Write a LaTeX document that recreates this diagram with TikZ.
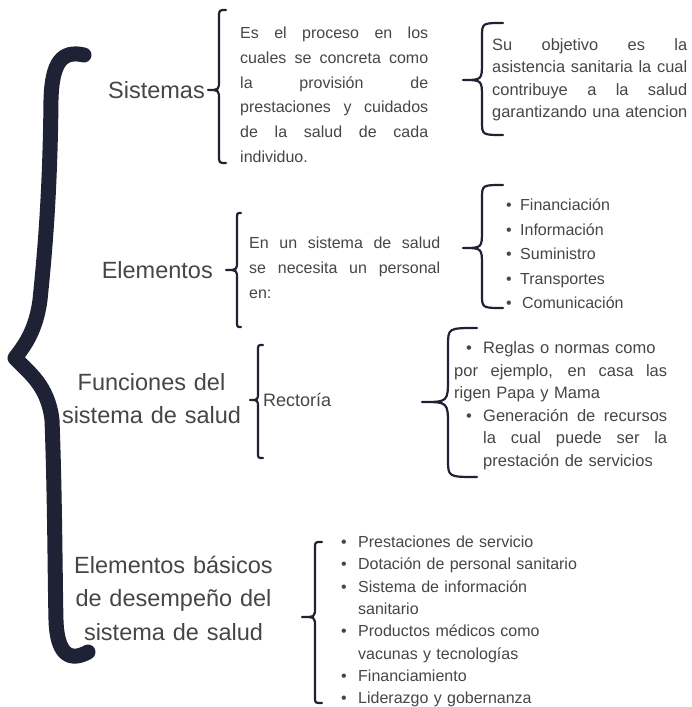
\documentclass[tikz,border=0pt]{standalone}
\usepackage{fontspec}
\setmainfont{Liberation Sans}
\definecolor{navy}{RGB}{30,34,52}
\definecolor{txt}{RGB}{70,70,70}
% xe xv xt yt ym yb r1 r2
\newcommand{\brc}[8]{%
  \draw[brace] (#1,#4) .. controls (#2,#4) .. (#2,#4+#7) -- (#2,#5-#8)
    .. controls (#2,#5) .. (#3,#5) .. controls (#2,#5) .. (#2,#5+#8)
    -- (#2,#6-#7) .. controls (#2,#6) .. (#1,#6);}
\newcommand{\jl}[2]{{\spaceskip=0pt\xspaceskip=0pt\makebox[#1][s]{#2}}}
\newcommand{\bul}[1]{\makebox[#1][l]{\textbullet}}
\begin{document}
\begin{tikzpicture}[x=1pt,y=-1pt,
  brace/.style={draw=navy, line width=2.2pt, line cap=round, line join=round},
  bigbrace/.style={draw=navy, line width=15pt, line cap=round, line join=round},
  lbl/.style={inner sep=0pt, text=txt, font=\fontsize{23.5}{33.5}\selectfont},
  blk/.style={inner sep=0pt, text=txt, align=left, anchor=base west, font=\fontsize{16}{24.8}\selectfont}]
\fill[white] (0,0) rectangle (692,707);
\useasboundingbox (0,0) rectangle (692,707);

% big brace
\draw[bigbrace] (84,55) .. controls (62,50) and (52,62) .. (51,100)
  .. controls (50,200) and (44,260) .. (40,300)
  .. controls (36,330) and (25,345) .. (15,358)
  .. controls (28,372) and (48,385) .. (52,420)
  .. controls (55,500) and (55,580) .. (56,620)
  .. controls (57,655) and (70,662) .. (88,652);

% labels
\node[lbl, anchor=base east] (sis) at (205,98) {Sistemas};
\node[lbl, anchor=base east] (ele) at (213,278) {Elementos};
\node[lbl, anchor=base, align=center, text width=220pt] (fun) at (151.5,390) {Funciones del\\sistema de salud};
\node[lbl, anchor=base, align=center, text width=220pt] (eb) at (173.5,573) {Elementos básicos\\de desempeño del\\sistema de salud};

% braces
\brc{226}{219}{208}{10}{90}{163}{8}{10}
\brc{503}{482}{463}{23}{80}{135}{14}{18}
\brc{241}{237}{226}{213}{270}{327}{6}{9}
\brc{503}{482}{463}{185}{248}{308}{14}{18}
\brc{263}{258}{250}{345}{400}{458}{6}{8}
\brc{477}{448}{422}{328}{402}{477}{18}{24}
\brc{322}{315}{302}{542}{617}{703}{6}{10}

% text blocks
\node[blk, text width=188pt] (t1) at (240,38.5) {%
\jl{188pt}{Es el proceso en los}\\
\jl{188pt}{cuales se concreta como}\\
\jl{188pt}{la provisión de}\\
\jl{188pt}{prestaciones y cuidados}\\
\jl{188pt}{de la salud de cada}\\
individuo.};

\node[blk, text width=200pt, font=\fontsize{16.4}{22.4}\selectfont] (t2) at (492,50.5) {%
\jl{195pt}{Su objetivo es la}\\
\jl{195pt}{asistencia sanitaria la cual}\\
\jl{195pt}{contribuye a la salud}\\
\mbox{garantizando una atencion}};

\node[blk, text width=191pt, font=\fontsize{16}{25}\selectfont] (t3) at (249,248.5) {%
\jl{191pt}{En un sistema de salud}\\
\jl{191pt}{se necesita un personal}\\
en:};

\node[blk, text width=150pt, font=\fontsize{16}{24.6}\selectfont] (t4) at (506,210.5) {%
\bul{14pt}Financiación\\
\bul{14pt}Información\\
\bul{14pt}Suministro\\
\bul{14pt}Transportes\\
\bul{16pt}Comunicación};

\node[lbl, anchor=base west, font=\fontsize{18}{22}\selectfont] (rec) at (263,406) {Rectoría};

\node[blk, text width=213pt, font=\fontsize{16.5}{22.6}\selectfont] (t5) at (454,353.5) {%
\hspace*{12pt}\bul{17pt}Reglas o normas como\\
\jl{213pt}{por ejemplo, en casa las}\\
rigen Papa y Mama\\
\hspace*{12pt}\bul{17pt}\jl{184pt}{Generación de recursos}\\
\hspace*{29pt}\jl{184pt}{la cual puede ser la}\\
\hspace*{29pt}prestación de servicios};

\node[blk, text width=260pt, font=\fontsize{16}{22.3}\selectfont] (t6) at (341,547.5) {%
\bul{17pt}Prestaciones de servicio\\
\bul{17pt}Dotación de personal sanitario\\
\bul{17pt}Sistema de información\\
\hspace*{17pt}sanitario\\
\bul{17pt}Productos médicos como\\
\hspace*{17pt}vacunas y tecnologías\\
\bul{17pt}Financiamiento\\
\bul{17pt}Liderazgo y gobernanza};
\end{tikzpicture}
\end{document}
